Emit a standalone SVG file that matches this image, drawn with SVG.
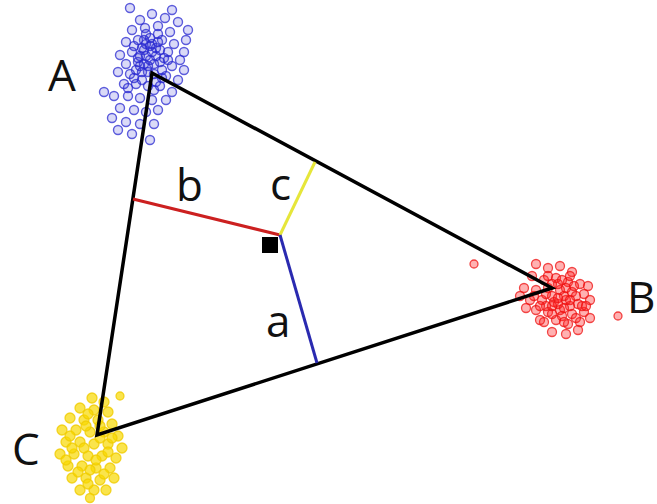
<svg xmlns="http://www.w3.org/2000/svg" width="657" height="504" viewBox="0 0 657 504">
<style>
.lbl{font-family:"Open Sans","Liberation Sans",sans-serif;font-size:44px;fill:#111}
.bl{fill:#3030d0;fill-opacity:0.18;stroke:#2a2ad0;stroke-opacity:0.75;stroke-width:1.4}
.rd{fill:#ff2020;fill-opacity:0.35;stroke:#ee1010;stroke-opacity:0.75;stroke-width:1.3}
.ye{fill:#f8d800;fill-opacity:0.7;stroke:#f0cc00;stroke-opacity:0.8;stroke-width:1.3}
.edge{stroke:#000;stroke-width:3.5;fill:none;stroke-linecap:round}
.perp{stroke-width:3;fill:none}
</style>
<rect width="657" height="504" fill="#fff"/>
<g id="clusterA">
<circle class="bl" cx="140" cy="20" r="4.5"/><circle class="bl" cx="152" cy="14" r="4.5"/><circle class="bl" cx="165" cy="18" r="4.5"/><circle class="bl" cx="178" cy="22" r="4.5"/><circle class="bl" cx="186" cy="40" r="4.5"/><circle class="bl" cx="132" cy="30" r="4.5"/><circle class="bl" cx="145" cy="28" r="4.5"/><circle class="bl" cx="158" cy="26" r="4.5"/><circle class="bl" cx="170" cy="32" r="4.5"/><circle class="bl" cx="126" cy="42" r="4.5"/><circle class="bl" cx="138" cy="40" r="4.5"/><circle class="bl" cx="150" cy="38" r="4.5"/><circle class="bl" cx="162" cy="40" r="4.5"/><circle class="bl" cx="174" cy="44" r="4.5"/><circle class="bl" cx="184" cy="52" r="4.5"/><circle class="bl" cx="120" cy="55" r="4.5"/><circle class="bl" cx="132" cy="52" r="4.5"/><circle class="bl" cx="144" cy="50" r="4.5"/><circle class="bl" cx="156" cy="48" r="4.5"/><circle class="bl" cx="168" cy="52" r="4.5"/><circle class="bl" cx="180" cy="60" r="4.5"/><circle class="bl" cx="126" cy="64" r="4.5"/><circle class="bl" cx="138" cy="62" r="4.5"/><circle class="bl" cx="150" cy="60" r="4.5"/><circle class="bl" cx="160" cy="62" r="4.5"/><circle class="bl" cx="172" cy="66" r="4.5"/><circle class="bl" cx="184" cy="70" r="4.5"/><circle class="bl" cx="118" cy="72" r="4.5"/><circle class="bl" cx="130" cy="74" r="4.5"/><circle class="bl" cx="142" cy="72" r="4.5"/><circle class="bl" cx="154" cy="74" r="4.5"/><circle class="bl" cx="166" cy="76" r="4.5"/><circle class="bl" cx="178" cy="80" r="4.5"/><circle class="bl" cx="124" cy="84" r="4.5"/><circle class="bl" cx="136" cy="84" r="4.5"/><circle class="bl" cx="148" cy="86" r="4.5"/><circle class="bl" cx="160" cy="86" r="4.5"/><circle class="bl" cx="172" cy="92" r="4.5"/><circle class="bl" cx="104" cy="92" r="4.5"/><circle class="bl" cx="114" cy="96" r="4.5"/><circle class="bl" cx="128" cy="96" r="4.5"/><circle class="bl" cx="140" cy="98" r="4.5"/><circle class="bl" cx="152" cy="100" r="4.5"/><circle class="bl" cx="166" cy="100" r="4.5"/><circle class="bl" cx="120" cy="108" r="4.5"/><circle class="bl" cx="134" cy="110" r="4.5"/><circle class="bl" cx="146" cy="112" r="4.5"/><circle class="bl" cx="158" cy="110" r="4.5"/><circle class="bl" cx="112" cy="118" r="4.5"/><circle class="bl" cx="126" cy="122" r="4.5"/><circle class="bl" cx="140" cy="124" r="4.5"/><circle class="bl" cx="154" cy="124" r="4.5"/><circle class="bl" cx="118" cy="130" r="4.5"/><circle class="bl" cx="132" cy="134" r="4.5"/><circle class="bl" cx="150" cy="140" r="4.5"/><circle class="bl" cx="130" cy="8" r="4.5"/><circle class="bl" cx="172" cy="10" r="4.5"/><circle class="bl" cx="188" cy="30" r="4.5"/><circle class="bl" cx="146" cy="44" r="4.5"/><circle class="bl" cx="156" cy="56" r="4.5"/><circle class="bl" cx="136" cy="70" r="4.5"/><circle class="bl" cx="148" cy="66" r="4.5"/><circle class="bl" cx="162" cy="70" r="4.5"/><circle class="bl" cx="142" cy="80" r="4.5"/><circle class="bl" cx="154" cy="90" r="4.5"/><circle class="bl" cx="128" cy="88" r="4.5"/><circle class="bl" cx="164" cy="58" r="4.5"/><circle class="bl" cx="140" cy="56" r="4.5"/><circle class="bl" cx="152" cy="44" r="4.5"/><circle class="bl" cx="134" cy="46" r="4.5"/><circle class="bl" cx="146" cy="34" r="4.5"/><circle class="bl" cx="158" cy="34" r="4.5"/><circle class="bl" cx="144" cy="64" r="4.5"/><circle class="bl" cx="152" cy="52" r="4.5"/>
<circle class="bl" cx="142" cy="48" r="4.5"/><circle class="bl" cx="150" cy="46" r="4.5"/><circle class="bl" cx="160" cy="50" r="4.5"/><circle class="bl" cx="138" cy="58" r="4.5"/><circle class="bl" cx="154" cy="64" r="4.5"/><circle class="bl" cx="148" cy="72" r="4.5"/><circle class="bl" cx="140" cy="66" r="4.5"/><circle class="bl" cx="162" cy="78" r="4.5"/><circle class="bl" cx="134" cy="78" r="4.5"/><circle class="bl" cx="156" cy="82" r="4.5"/><circle class="bl" cx="144" cy="40" r="4.5"/><circle class="bl" cx="168" cy="60" r="4.5"/><circle class="bl" cx="146" cy="56" r="4.5"/><circle class="bl" cx="158" cy="42" r="4.5"/>
</g>
<g id="clusterB">
<circle class="rd" cx="548" cy="268" r="4.5"/><circle class="rd" cx="560" cy="266" r="4.5"/><circle class="rd" cx="572" cy="272" r="4.5"/><circle class="rd" cx="532" cy="276" r="4.5"/><circle class="rd" cx="544" cy="280" r="4.5"/><circle class="rd" cx="556" cy="278" r="4.5"/><circle class="rd" cx="568" cy="282" r="4.5"/><circle class="rd" cx="580" cy="284" r="4.5"/><circle class="rd" cx="524" cy="288" r="4.5"/><circle class="rd" cx="536" cy="290" r="4.5"/><circle class="rd" cx="548" cy="288" r="4.5"/><circle class="rd" cx="560" cy="290" r="4.5"/><circle class="rd" cx="572" cy="292" r="4.5"/><circle class="rd" cx="584" cy="294" r="4.5"/><circle class="rd" cx="530" cy="300" r="4.5"/><circle class="rd" cx="542" cy="300" r="4.5"/><circle class="rd" cx="554" cy="302" r="4.5"/><circle class="rd" cx="566" cy="300" r="4.5"/><circle class="rd" cx="578" cy="304" r="4.5"/><circle class="rd" cx="590" cy="300" r="4.5"/><circle class="rd" cx="536" cy="310" r="4.5"/><circle class="rd" cx="548" cy="312" r="4.5"/><circle class="rd" cx="560" cy="310" r="4.5"/><circle class="rd" cx="572" cy="314" r="4.5"/><circle class="rd" cx="584" cy="312" r="4.5"/><circle class="rd" cx="544" cy="322" r="4.5"/><circle class="rd" cx="556" cy="320" r="4.5"/><circle class="rd" cx="568" cy="324" r="4.5"/><circle class="rd" cx="580" cy="322" r="4.5"/><circle class="rd" cx="552" cy="332" r="4.5"/><circle class="rd" cx="566" cy="334" r="4.5"/><circle class="rd" cx="578" cy="330" r="4.5"/><circle class="rd" cx="520" cy="296" r="4.5"/><circle class="rd" cx="526" cy="308" r="4.5"/><circle class="rd" cx="540" cy="320" r="4.5"/><circle class="rd" cx="588" cy="286" r="4.5"/><circle class="rd" cx="564" cy="296" r="4.5"/><circle class="rd" cx="552" cy="296" r="4.5"/><circle class="rd" cx="576" cy="296" r="4.5"/><circle class="rd" cx="558" cy="284" r="4.5"/><circle class="rd" cx="570" cy="306" r="4.5"/><circle class="rd" cx="546" cy="306" r="4.5"/><circle class="rd" cx="562" cy="316" r="4.5"/><circle class="rd" cx="474" cy="264" r="4"/><circle class="rd" cx="618" cy="316" r="4"/><circle class="rd" cx="536" cy="264" r="4.5"/><circle class="rd" cx="590" cy="318" r="4.5"/><circle class="rd" cx="558" cy="304" r="4.5"/><circle class="rd" cx="566" cy="288" r="4.5"/>
<circle class="rd" cx="552" cy="284" r="4.5"/><circle class="rd" cx="562" cy="280" r="4.5"/><circle class="rd" cx="574" cy="286" r="4.5"/><circle class="rd" cx="546" cy="294" r="4.5"/><circle class="rd" cx="558" cy="298" r="4.5"/><circle class="rd" cx="570" cy="300" r="4.5"/><circle class="rd" cx="582" cy="306" r="4.5"/><circle class="rd" cx="540" cy="306" r="4.5"/><circle class="rd" cx="552" cy="314" r="4.5"/><circle class="rd" cx="564" cy="322" r="4.5"/><circle class="rd" cx="576" cy="318" r="4.5"/><circle class="rd" cx="534" cy="296" r="4.5"/><circle class="rd" cx="586" cy="306" r="4.5"/><circle class="rd" cx="548" cy="276" r="4.5"/><circle class="rd" cx="570" cy="276" r="4.5"/><circle class="rd" cx="564" cy="308" r="4.5"/><circle class="rd" cx="552" cy="306" r="4.5"/>
</g>
<g id="clusterC">
<circle class="ye" cx="92" cy="398" r="5"/><circle class="ye" cx="104" cy="402" r="5"/><circle class="ye" cx="80" cy="408" r="5"/><circle class="ye" cx="94" cy="410" r="5"/><circle class="ye" cx="108" cy="412" r="5"/><circle class="ye" cx="70" cy="418" r="5"/><circle class="ye" cx="84" cy="420" r="5"/><circle class="ye" cx="98" cy="420" r="5"/><circle class="ye" cx="112" cy="424" r="5"/><circle class="ye" cx="62" cy="430" r="5"/><circle class="ye" cx="76" cy="430" r="5"/><circle class="ye" cx="90" cy="432" r="5"/><circle class="ye" cx="104" cy="432" r="5"/><circle class="ye" cx="118" cy="436" r="5"/><circle class="ye" cx="66" cy="442" r="5"/><circle class="ye" cx="80" cy="442" r="5"/><circle class="ye" cx="94" cy="444" r="5"/><circle class="ye" cx="108" cy="444" r="5"/><circle class="ye" cx="122" cy="448" r="5"/><circle class="ye" cx="60" cy="454" r="5"/><circle class="ye" cx="74" cy="454" r="5"/><circle class="ye" cx="88" cy="456" r="5"/><circle class="ye" cx="102" cy="456" r="5"/><circle class="ye" cx="116" cy="458" r="5"/><circle class="ye" cx="68" cy="466" r="5"/><circle class="ye" cx="82" cy="466" r="5"/><circle class="ye" cx="96" cy="468" r="5"/><circle class="ye" cx="110" cy="468" r="5"/><circle class="ye" cx="72" cy="478" r="5"/><circle class="ye" cx="86" cy="478" r="5"/><circle class="ye" cx="100" cy="480" r="5"/><circle class="ye" cx="114" cy="478" r="5"/><circle class="ye" cx="80" cy="490" r="5"/><circle class="ye" cx="94" cy="490" r="5"/><circle class="ye" cx="106" cy="490" r="5"/><circle class="ye" cx="90" cy="498" r="4.5"/><circle class="ye" cx="86" cy="426" r="5"/><circle class="ye" cx="100" cy="438" r="5"/><circle class="ye" cx="84" cy="448" r="5"/><circle class="ye" cx="96" cy="460" r="5"/><circle class="ye" cx="78" cy="472" r="5"/><circle class="ye" cx="120" cy="396" r="4"/>
<circle class="ye" cx="88" cy="414" r="5"/><circle class="ye" cx="70" cy="436" r="5"/><circle class="ye" cx="112" cy="438" r="5"/><circle class="ye" cx="72" cy="448" r="5"/><circle class="ye" cx="108" cy="452" r="5"/><circle class="ye" cx="90" cy="470" r="5"/><circle class="ye" cx="104" cy="474" r="5"/><circle class="ye" cx="88" cy="484" r="5"/><circle class="ye" cx="66" cy="460" r="5"/><circle class="ye" cx="100" cy="426" r="5"/>
</g>
<g id="connectors">
<polygon class="edge" points="152,73 552,288 97,435" stroke-linejoin="miter"/>
<line class="perp" x1="280" y1="235" x2="133" y2="199" stroke="#cc2020"/>
<line class="perp" x1="280" y1="235" x2="315" y2="162" stroke="#e6e63a"/>
<line class="perp" x1="280" y1="235" x2="317" y2="363" stroke="#2a2ab0"/>
</g>
<g id="point"><rect x="262" y="237" width="16" height="16" fill="#000"/></g>
<g id="labelA"><text class="lbl" x="48" y="91">A</text></g>
<g id="labelB"><text class="lbl" x="627" y="313">B</text></g>
<g id="labelC"><text class="lbl" x="12" y="465">C</text></g>
<g id="labelb"><text class="lbl" x="176" y="201">b</text></g>
<g id="labelc"><text class="lbl" x="270" y="200">c</text></g>
<g id="labela"><text class="lbl" x="266" y="337">a</text></g>
</svg>
